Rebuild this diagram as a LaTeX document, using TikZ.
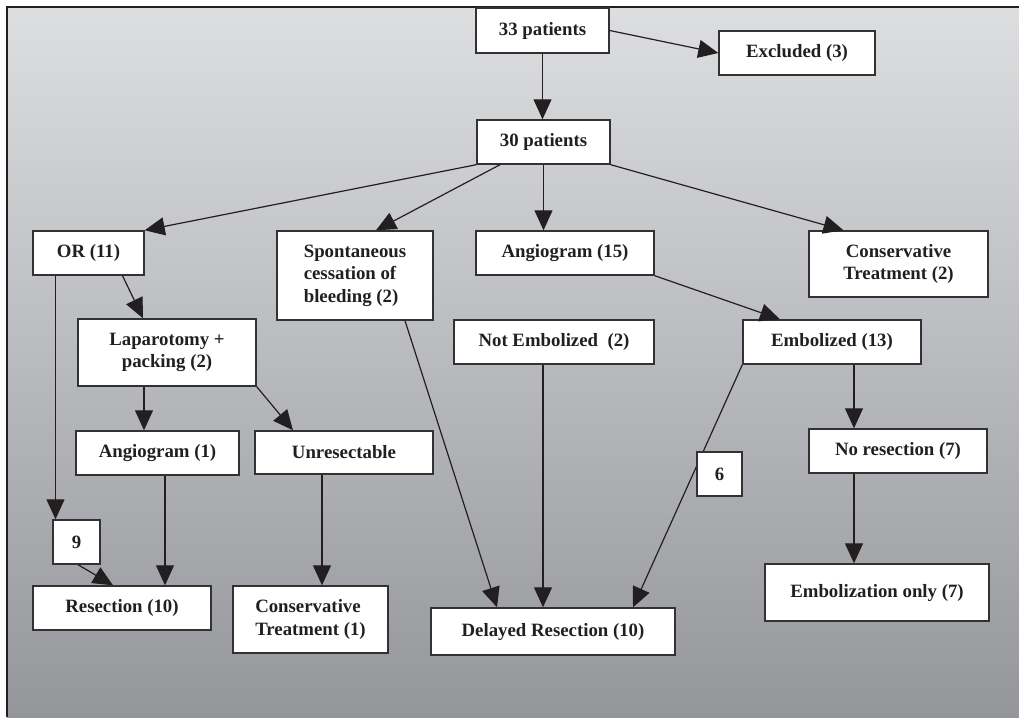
\documentclass[tikz,border=0pt]{standalone}
\usepackage{fontspec}
\setmainfont{Liberation Serif}
\usetikzlibrary{arrows.meta}
\definecolor{bgtop}{RGB}{221,222,224}
\definecolor{bgbot}{RGB}{148,150,154}
\definecolor{inkc}{RGB}{35,31,32}
\definecolor{boxc}{RGB}{50,50,52}
\begin{document}
\begin{tikzpicture}[x=1pt,y=-1pt,
  box/.style={draw=boxc, line width=1.4pt, fill=white, inner sep=0pt, align=center,
    font=\bfseries\fontsize{18.8}{22.5}\selectfont, text=inkc},
  conn/.style={draw=inkc, line width=1.2pt, -{Triangle[length=20pt,width=18pt]}}]
\useasboundingbox (0,0) rectangle (1019,717);
\fill[white] (0,0) rectangle (1019,717);
\shade[top color=bgtop, bottom color=bgbot] (7,7) rectangle (1019,717);
\draw[inkc, line width=1.6pt] (7,717) -- (7,7) -- (1019,7);

% nodes
\node[box, minimum width=133pt, minimum height=45pt] (p33) at (542.5,30.5) {33 patients};
\node[box, minimum width=156pt, minimum height=44pt] (excl) at (797,53) {Excluded (3)};
\node[box, minimum width=133pt, minimum height=44pt] (p30) at (543.5,142) {30 patients};
\node[box, minimum width=111pt, minimum height=44pt] (or) at (88.5,253) {OR (11)};
\node[box, minimum width=156pt, minimum height=89pt, align=left] (spont) at (355,275.5) {Spontaneous\\cessation of\\bleeding (2)};
\node[box, minimum width=178pt, minimum height=44pt] (ang15) at (565,253) {Angiogram (15)};
\node[box, minimum width=179pt, minimum height=66pt] (cons2) at (898.5,264) {Conservative\\Treatment (2)};
\node[box, minimum width=200pt, minimum height=44pt] (notemb) at (554,342) {Not Embolized\ \ (2)};
\node[box, minimum width=178pt, minimum height=44pt] (emb) at (832,342) {Embolized (13)};
\node[box, minimum width=178pt, minimum height=67pt] (lap) at (167,352.5) {Laparotomy +\\packing (2)};
\node[box, minimum width=163pt, minimum height=44pt] (ang1) at (157.5,453) {Angiogram (1)};
\node[box, minimum width=178pt, minimum height=43pt] (unres) at (344,452.5) {Unresectable};
\node[box, minimum width=178pt, minimum height=44pt] (nores) at (898,451) {No resection (7)};
\node[box, minimum width=47pt, minimum height=44pt] (nine) at (76.5,542) {9};
\node[box, minimum width=178pt, minimum height=44pt] (resec) at (122,608) {Resection (10)};
\node[box, minimum width=155pt, minimum height=67pt, align=left] (cons1) at (310.5,619.5) {Conservative\\Treatment (1)};
\node[box, minimum width=244pt, minimum height=47pt] (delayed) at (553,631.5) {Delayed Resection (10)};
\node[box, minimum width=224pt, minimum height=57pt] (embonly) at (877,592.5) {Embolization only (7)};

% connectors
\draw[conn] (p33.south) -- (p33.south |- p30.north);
\draw[conn] (p33.east) -- (excl.west);
\draw[conn] (p30.south west) -- (or.north east);
\draw[conn] ([xshift=-43.5pt]p30.south) -- ([xshift=21pt]spont.north);
\draw[conn] (p30.south) -- (p30.south |- ang15.north);
\draw[conn] (p30.south east) -- ([xshift=-55pt]cons2.north);
\draw[conn] ([xshift=34pt]or.south) -- ([xshift=-24pt]lap.north);
\draw[conn] ([xshift=-33pt]or.south) -- ([xshift=-33pt]or.south |- nine.north);
\draw[conn] ([xshift=1.5pt]nine.south) -- ([xshift=-9pt]resec.north);
\draw[conn] ([xshift=-23pt]lap.south) -- ([xshift=-23pt]lap.south |- ang1.north);
\draw[conn] (lap.south east) -- ([xshift=-51pt]unres.north);
\draw[conn] ([xshift=7.5pt]ang1.south) -- ([xshift=7.5pt]ang1.south |- resec.north);
\draw[conn] ([xshift=-22pt]unres.south) -- ([xshift=-22pt]unres.south |- cons1.north);
\draw[conn] ([xshift=50pt]spont.south) -- ([xshift=-56pt]delayed.north);
\draw[conn] ([xshift=-11pt]notemb.south) -- ([xshift=-11pt]notemb.south |- delayed.north);
\draw[conn] (emb.south west) -- ([xshift=80pt]delayed.north);
\draw[conn] (ang15.south east) -- ([xshift=-52pt]emb.north);
\draw[conn] ([xshift=22pt]emb.south) -- ([xshift=22pt]emb.south |- nores.north);
\draw[conn] ([xshift=-44pt]nores.south) -- ([xshift=-44pt]nores.south |- embonly.north);

% label box drawn over the connector
\node[box, minimum width=45pt, minimum height=44pt] (six) at (719.5,474) {6};
\end{tikzpicture}
\end{document}
